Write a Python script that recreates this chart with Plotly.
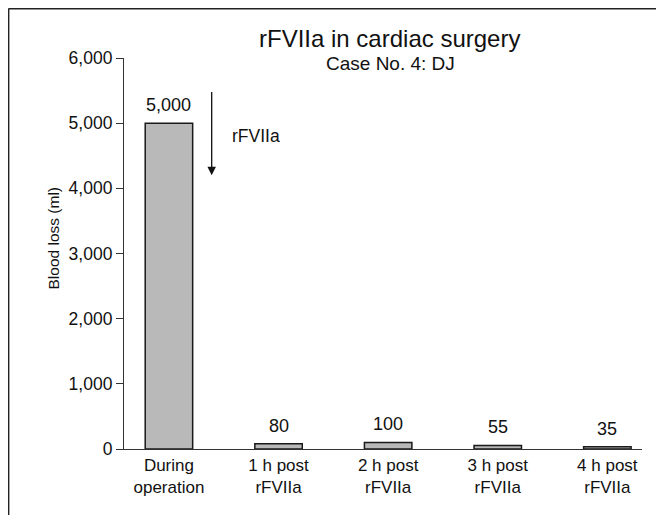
import plotly.graph_objects as go

categories = ["During<br>operation", "1 h post<br>rFVIIa", "2 h post<br>rFVIIa", "3 h post<br>rFVIIa", "4 h post<br>rFVIIa"]
blood_loss = [5000, 80, 100, 55, 35]
value_labels = ["5,000", "80", "100", "55", "35"]
y_ticks = [0, 1000, 2000, 3000, 4000, 5000, 6000]
y_tick_labels = ["0", "1,000", "2,000", "3,000", "4,000", "5,000", "6,000"]

FONT = "Liberation Sans, Arial, Helvetica, sans-serif"
TXT = "#111"
xs = list(range(len(categories)))

# plot area geometry (figure pixels); the page adds an 8px body margin
L, T, W, H = 116, 50, 518, 391
FIG_W, FIG_H = 664, 515
OFF = 8


def px(page_x):
    return (page_x - OFF - L) / W


def py(page_y):
    return (T + H - (page_y - OFF)) / H


fig = go.Figure()
fig.add_trace(go.Bar(
    x=xs, y=blood_loss, width=0.433,
    marker=dict(color="#b9b9b9", line=dict(color="#1a1a1a", width=1.5)),
    hoverinfo="skip", showlegend=False,
))

annotations = []
for x, v, t in zip(xs, blood_loss, value_labels):
    annotations.append(dict(x=x, y=v, text=t, showarrow=False, yanchor="middle",
                            yshift=18, font=dict(size=18, color=TXT, family=FONT)))

# rFVIIa arrow
annotations.append(dict(x=0.39, y=4200, ax=0.39, ay=5500, xref="x", yref="y",
                        axref="x", ayref="y", text="", showarrow=True,
                        arrowhead=2, arrowsize=1.3, arrowwidth=1.3, arrowcolor=TXT))
annotations.append(dict(x=0.557, y=4806, text="rFVIIa", showarrow=False, xanchor="left",
                        yanchor="middle", font=dict(size=17.5, color=TXT, family=FONT)))

# titles
annotations.append(dict(x=px(389), y=py(39), xref="paper", yref="paper",
                        text="rFVIIa in cardiac surgery", showarrow=False, yanchor="middle",
                        font=dict(size=24, color=TXT, family=FONT)))
annotations.append(dict(x=px(390), y=py(63), xref="paper", yref="paper",
                        text="Case No. 4: DJ", showarrow=False, yanchor="middle",
                        font=dict(size=19, color=TXT, family=FONT)))
annotations.append(dict(x=px(42), y=py(238), xref="paper", yref="paper",
                        text="Blood loss (ml)", showarrow=False, textangle=-90,
                        font=dict(size=15.5, color=TXT, family=FONT)))

bx = (0.5 - L) / W
by = (T + H - 0.5) / H
shapes = [
    dict(type="line", xref="paper", yref="paper", x0=bx, x1=(FIG_W + 5 - L) / W,
         y0=by, y1=by, line=dict(color="#222", width=1.8)),
    dict(type="line", xref="paper", yref="paper", x0=bx, x1=bx,
         y0=by, y1=(T + H - FIG_H - 5) / H, line=dict(color="#222", width=1.8)),
]

fig.update_layout(
    width=FIG_W, height=FIG_H,
    margin=dict(l=L, r=FIG_W - L - W, t=T, b=FIG_H - T - H),
    paper_bgcolor="white", plot_bgcolor="white",
    font=dict(family=FONT, color=TXT),
    annotations=annotations, shapes=shapes,
)
fig.update_xaxes(range=[-0.41, 4.316], tickvals=xs, ticktext=categories, showgrid=False,
                 zeroline=False, showline=True, linecolor="#333", linewidth=1.2,
                 ticks="", tickfont=dict(size=17, family=FONT, color=TXT), fixedrange=True)
fig.update_yaxes(range=[0, 6000], tickvals=y_ticks, ticktext=y_tick_labels, showgrid=False,
                 zeroline=False, showline=True, linecolor="#333", linewidth=1.2,
                 ticks="outside", ticklen=7, tickcolor="#333",
                 tickfont=dict(size=17.5, family=FONT, color=TXT), fixedrange=True)

fig.write_html("out.html")
